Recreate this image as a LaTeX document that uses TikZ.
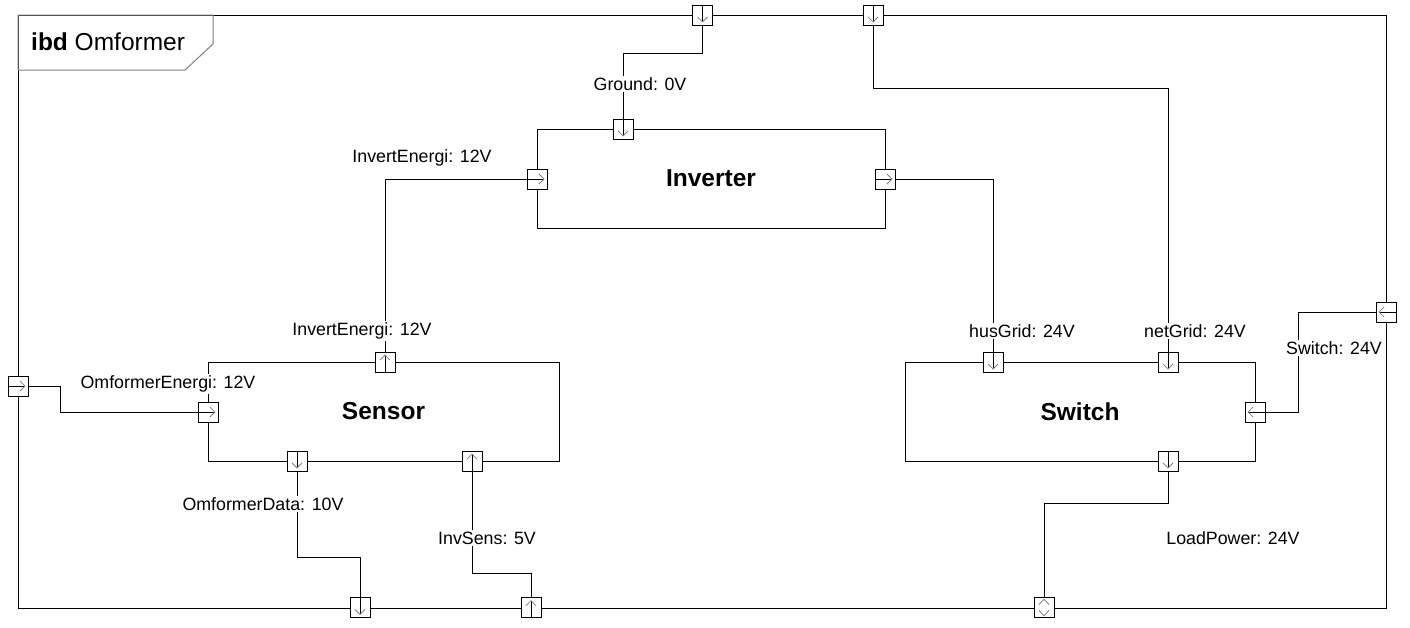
\documentclass[tikz,border=0pt]{standalone}
\usepackage{fontspec}
\setmainfont{Liberation Sans}
\usetikzlibrary{arrows.meta}
\begin{document}
\begin{tikzpicture}[x=1pt,y=-1pt,
  conn/.style={line width=1pt, black},
  block/.style={draw, line width=1pt, minimum width=#1, minimum height=99pt, inner sep=0pt, font=\bfseries\fontsize{24.5}{28}\selectfont},
  port/.style={draw, line width=1pt, fill=white, minimum size=20pt, inner sep=0pt},
  ptip/.style={-{Straight Barb[length=5pt,width=10pt,color=gray,line width=0.8pt]}, line width=1pt, black, shorten >=2.5pt},
  pdown/.style={port, path picture={\draw[ptip] (path picture bounding box.north) -- (path picture bounding box.south);}},
  pup/.style={port, path picture={\draw[ptip] (path picture bounding box.south) -- (path picture bounding box.north);}},
  pright/.style={port, path picture={\draw[ptip] (path picture bounding box.west) -- (path picture bounding box.east);}},
  pleft/.style={port, path picture={\draw[ptip] (path picture bounding box.east) -- (path picture bounding box.west);}},
  pinout/.style={port, path picture={
     \draw[gray, line width=0.8pt] ([xshift=-5pt,yshift=-7pt]path picture bounding box.north) -- ([yshift=-1.8pt]path picture bounding box.north) -- ([xshift=5pt,yshift=-7pt]path picture bounding box.north);
     \draw[gray, line width=0.8pt] ([xshift=-5pt,yshift=7pt]path picture bounding box.south) -- ([yshift=1.8pt]path picture bounding box.south) -- ([xshift=5pt,yshift=7pt]path picture bounding box.south);}},
  lbl/.style={fill=white, inner sep=1.5pt, font=\fontsize{17.8}{20}\selectfont},
]
\useasboundingbox (0,0) rectangle (1410,627);
% frame
\draw[line width=1pt] (18,15) rectangle (1386,608);
\draw[gray, line width=1pt] (18,70) -- (18,15) -- (213,15) -- (213,44) -- (185,70) -- (18,70);
\node[anchor=west, inner sep=0pt, font=\fontsize{24.5}{28}\selectfont] (title) at (31,42) {\textbf{ibd} Omformer};
% blocks
\node[block=348pt] (inv) at (711,178.5) {Inverter};
\node[block=351pt] (sen) at (383.5,411.5) {Sensor};
\node[block=350pt] (swi) at (1080,411.5) {Switch};
% coordinates of ports
\coordinate (cft1) at (702.5,15);
\coordinate (cft2) at (873,15);
\coordinate (cfl) at (18,386);
\coordinate (cfr) at (1386,312);
\coordinate (cfb1) at (360,607.5);
\coordinate (cfb2) at (531,607.5);
\coordinate (cfb3) at (1044,607.5);
% connectors
\draw[conn] (cft1) -- ++(0,38) -| (623,129);
\draw[conn] (cft2) -- ++(0,73) -| (1168,362);
\draw[conn] (537,179) -| (385,362);
\draw[conn] (cfl) -- ++(42,0) |- (208,412);
\draw[conn] (297,461) -- ++(0,96) -| (cfb1);
\draw[conn] (472,461) -- ++(0,112) -| (cfb2);
\draw[conn] (885,179) -| (993,362);
\draw[conn] (cfr) -- ++(-88,0) |- (1255,412);
\draw[conn] (1168,461) -- ++(0,42) -| (cfb3);
% ports
\node[pdown] (ft1) at (cft1) {};
\node[pdown] (ft2) at (cft2) {};
\node[pright] (fl) at (cfl) {};
\node[pleft] (fr) at (cfr) {};
\node[pdown] (fb1) at (cfb1) {};
\node[pup] (fb2) at (cfb2) {};
\node[pinout] (fb3) at (cfb3) {};
\node[pdown] (it) at (623,129) {};
\node[pright] (il) at (537,179) {};
\node[pright] (ir) at (885,179) {};
\node[pup] (st) at (385,362) {};
\node[pright] (sl) at (208,412) {};
\node[pdown] (sb1) at (297,461) {};
\node[pup] (sb2) at (472,461) {};
\node[pdown] (wt1) at (993,362) {};
\node[pdown] (wt2) at (1168,362) {};
\node[pleft] (wr) at (1255,412) {};
\node[pdown] (wb) at (1168,461) {};
% labels
\node[lbl] (l1) at (640,84) {Ground: 0V};
\node[lbl] (l2) at (422,158) {InvertEnergi: 12V};
\node[lbl] (l3) at (362,331) {InvertEnergi: 12V};
\node[lbl] (l4) at (1022,331) {husGrid: 24V};
\node[lbl] (l5) at (1195,331) {netGrid: 24V};
\node[lbl] (l6) at (1334,348) {Switch: 24V};
\node[lbl] (l7) at (168,384) {OmformerEnergi: 12V};
\node[lbl] (l8) at (263,504) {OmformerData: 10V};
\node[lbl] (l9) at (487,538) {InvSens: 5V};
\node[lbl] (l10) at (1233,538) {LoadPower: 24V};
\end{tikzpicture}
\end{document}
